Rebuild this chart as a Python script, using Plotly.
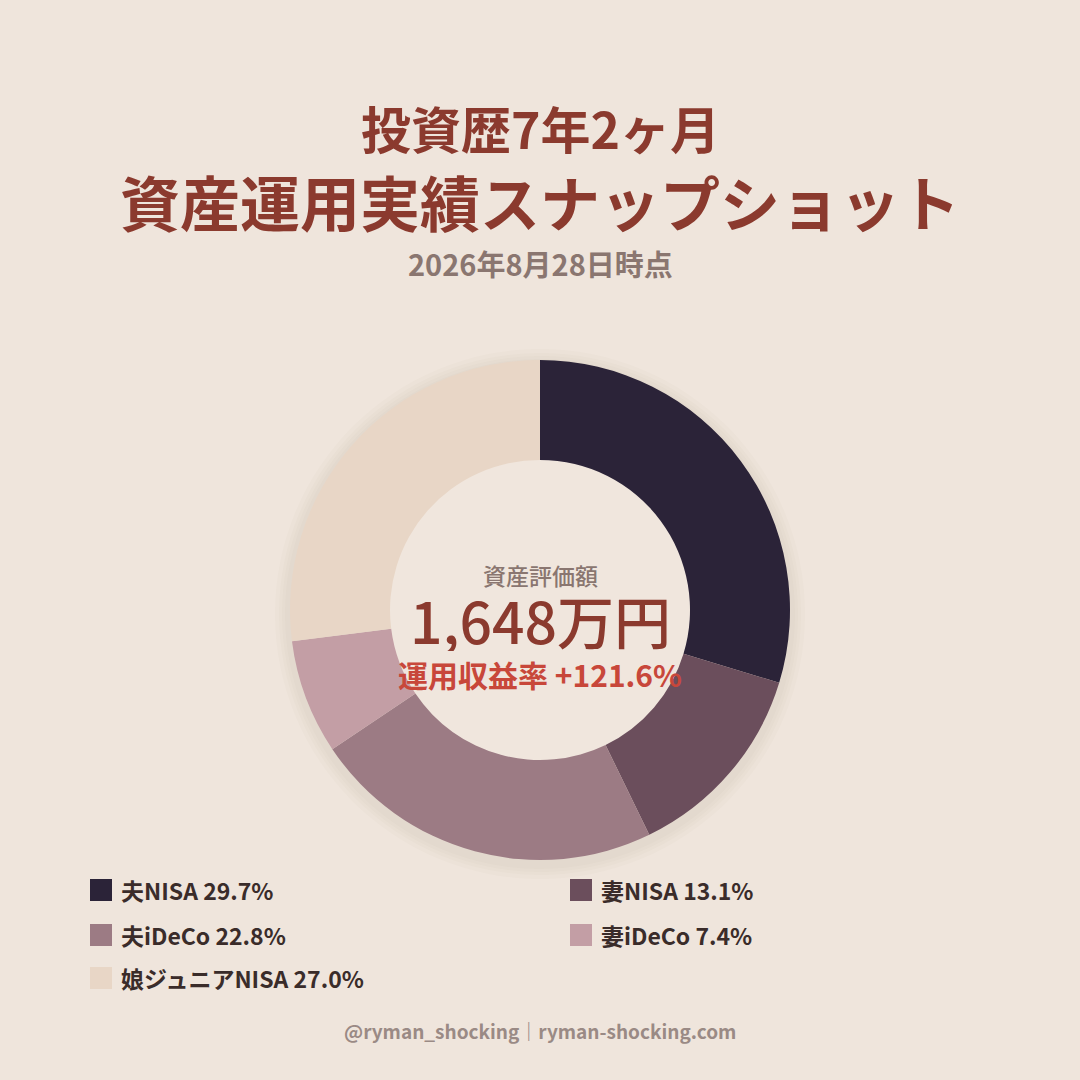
import plotly.graph_objects as go

# 資産配分（%）
accounts = ["夫NISA", "妻NISA", "夫iDeCo", "妻iDeCo", "娘ジュニアNISA"]
shares = [29.7, 13.1, 22.8, 7.4, 27.0]
colors = ["#2B2338", "#6B4E5C", "#9C7B84", "#C39EA5", "#E8D6C6"]

total_label = "1,648万円"
return_label = "運用収益率 +121.6%"
title_1 = "投資歴7年2ヶ月"
title_2 = "資産運用実績スナップショット"
as_of = "2026年8月28日時点"
footer = "@ryman_shocking｜ryman-shocking.com"

BG = "#EFE5DC"
FONT = "Noto Sans CJK JP"
W = H = 1080


def px(x):
    return x / W


def py(y):
    return 1 - y / H


fig = go.Figure()
fig.add_trace(go.Pie(
    labels=accounts,
    values=shares,
    sort=False,
    direction="clockwise",
    rotation=0,
    hole=0.6,
    marker=dict(colors=colors, line=dict(width=0)),
    textinfo="none",
    hoverinfo="label+percent",
    showlegend=False,
    domain=dict(x=[px(290), px(790)], y=[py(860), py(360)]),
))

# soft shadow around the donut, then the hole painted back to background
shapes = []
cx, cy = 540, 614
for r in [265, 261, 258, 255]:
    shapes.append(dict(
        type="circle", xref="paper", yref="paper", layer="below",
        x0=px(cx - r), x1=px(cx + r), y0=py(cy + r), y1=py(cy - r),
        fillcolor="#8A6E60", opacity=0.025, line=dict(width=0),
    ))
shapes.append(dict(
    type="circle", xref="paper", yref="paper", layer="below",
    x0=px(540 - 152), x1=px(540 + 152), y0=py(610 + 152), y1=py(610 - 152),
    fillcolor="#F0E6DD", line=dict(width=0),
))

# headline + centre text; explicit box heights keep the stacked lines tight
annotations = [
    dict(text=f"<b>{title_1}</b>", x=0.5, y=py(127), height=58, font=dict(size=50, color="#8B3A2E")),
    dict(text=f"<b>{title_2}</b>", x=0.5, y=py(200), height=70, font=dict(size=60, color="#8B3A2E")),
    dict(text=f"<b>{as_of}</b>", x=0.5, y=py(263), height=36, font=dict(size=29, color="#8A7670")),
    dict(text="資産評価額", x=0.5, y=py(575), height=28, font=dict(size=23, color="#8A7670", weight=500)),
    dict(text=total_label, x=0.5, y=py(619), height=64, font=dict(size=57, color="#8B3A2E", weight=500)),
    dict(text=f"<b>{return_label}</b>", x=0.5, y=py(674), height=36, font=dict(size=30, color="#C8473A")),
    dict(text=f"<b>{footer}</b>", x=0.5, y=py(1030), font=dict(size=19, color="#9A8A85")),
]

# legend: two columns, squares + labels
col_x = [90, 570]
row_y = [890, 935, 978]
for i, (name, share, c) in enumerate(zip(accounts, shares, colors)):
    x0 = col_x[i % 2]
    y0 = row_y[i // 2]
    shapes.append(dict(
        type="rect", xref="paper", yref="paper",
        x0=px(x0), x1=px(x0 + 22), y0=py(y0 + 11), y1=py(y0 - 11),
        fillcolor=c, line=dict(width=0),
    ))
    annotations.append(dict(
        text=f"<b>{name} {share:.1f}%</b>", x=px(x0 + 30), y=py(y0),
        xanchor="left", font=dict(size=23, color="#3A2C2A"),
    ))

for a in annotations:
    a.setdefault("xanchor", "center")
    a.update(xref="paper", yref="paper", showarrow=False, yanchor="middle",
             valign="middle", borderpad=0)

fig.update_layout(
    width=W, height=H,
    paper_bgcolor=BG, plot_bgcolor=BG,
    margin=dict(l=0, r=0, t=0, b=0),
    font=dict(family=FONT, color="#3A2C2A"),
    shapes=shapes,
    annotations=annotations,
    showlegend=False,
)

fig.write_html(
    "out.html",
    config={"displayModeBar": False},
    post_script="document.body.style.margin='0';document.body.style.background='%s';" % BG,
)
